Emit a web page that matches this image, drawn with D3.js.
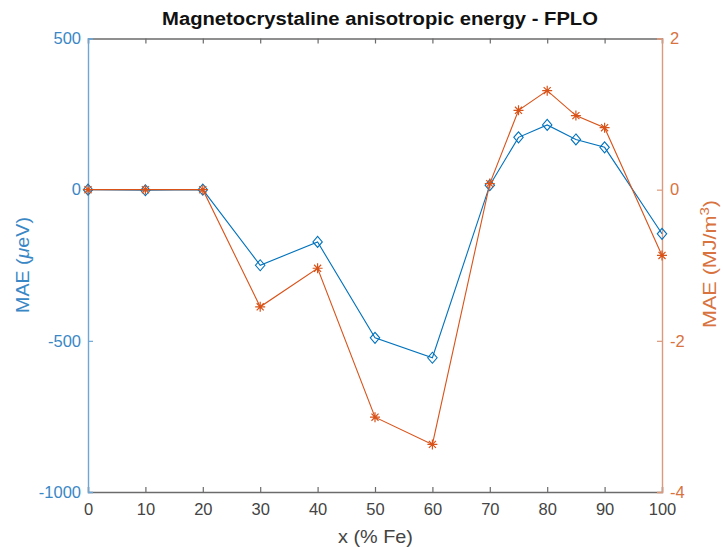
<!DOCTYPE html>
<html>
<head>
<meta charset="utf-8">
<script src="https://cdn.jsdelivr.net/npm/d3@7"></script>
<style>
  html, body { margin: 0; padding: 0; background: #fff; }
  svg text { font-family: "Liberation Sans", Arial, Helvetica, sans-serif; }
</style>
</head>
<body>
<svg id="chart" width="723" height="547"></svg>
<script>
// Fe content (%) for each computed composition
const feContent = [0, 10, 20, 30, 40, 50, 60, 70, 75, 80, 85, 90, 100];
// MAE in µeV (left axis)
const maeMicroEV = [0, -2, 0, -250, -173, -490, -556, 15, 173, 214, 166, 140, -146];
// MAE in MJ/m^3 (right axis)
const maeMJm3 = [0, 0, 0, -1.55, -1.04, -3.01, -3.37, 0.08, 1.05, 1.31, 0.98, 0.82, -0.87];

const xTicks = [0, 10, 20, 30, 40, 50, 60, 70, 80, 90, 100];
const leftTicks = [-1000, -500, 0, 500];
const rightTicks = [-4, -2, 0, 2];

const blue = "#0072BD";
const orange = "#D95319";
const blueText = "#3a87c6";
const orangeText = "#d8733f";

const svg = d3.select("#chart");
const margin = { left: 88, right: 61, top: 38.5, bottom: 55 };
const W = 723, H = 547;
const x0 = margin.left, x1 = W - margin.right;
const y0 = H - margin.bottom, y1 = margin.top;

const x = d3.scaleLinear().domain([0, 100]).range([x0, x1]);
const yL = d3.scaleLinear().domain([-1000, 500]).range([y0, y1]);
const yR = d3.scaleLinear().domain([-4, 2]).range([y0, y1]);

// plain hyphen-minus labels
const fmt = d => String(d);

// Bottom and top axes (ticks pointing inward)
const bottomAxis = d3.axisBottom(x).tickValues(xTicks).tickSize(-5).tickPadding(11).tickFormat(fmt);
const topAxis = d3.axisTop(x).tickValues(xTicks).tickSize(-5).tickFormat("");
const leftAxis = d3.axisLeft(yL).tickValues(leftTicks).tickSize(-5).tickPadding(7).tickFormat(fmt);
const rightAxis = d3.axisRight(yR).tickValues(rightTicks).tickSize(-5).tickPadding(8).tickFormat(fmt);

function styleAxis(g, color, textColor) {
  g.select(".domain").attr("stroke", color).attr("stroke-width", 1.4);
  g.selectAll(".tick line").attr("stroke", color).attr("stroke-width", 1.2);
  g.selectAll(".tick text").attr("fill", textColor).attr("font-size", 16.5)
    .attr("font-family", "Liberation Sans, Arial, sans-serif");
}

svg.append("g").attr("transform", `translate(0,${y1})`).call(topAxis)
  .call(g => styleAxis(g, "#6b6b6b", "#444"));
svg.append("g").attr("transform", `translate(0,${y0})`).call(bottomAxis)
  .call(g => styleAxis(g, "#6b6b6b", "#444"));
svg.append("g").attr("transform", `translate(${x0},0)`).call(leftAxis)
  .call(g => styleAxis(g, "#6ea6d6", blueText));
svg.append("g").attr("transform", `translate(${x1},0)`).call(rightAxis)
  .call(g => styleAxis(g, "#dc9a7c", orangeText));

// stretch a text element along its run so it spans a given width
function fitWidth(textSel, target) {
  const w = textSel.node().getBBox().width;
  return target / w;
}

// Title
const titleG = svg.append("g").attr("transform", "translate(380,25)");
const title = titleG.append("text")
  .attr("text-anchor", "middle").attr("font-weight", "bold").attr("font-size", 17.5)
  .attr("fill", "#111").text("Magnetocrystaline anisotropic energy - FPLO");
title.attr("transform", `scale(${fitWidth(title, 436)},1)`);

// x label
const xlG = svg.append("g").attr("transform", "translate(375.5,543)");
const xl = xlG.append("text").attr("text-anchor", "middle").attr("font-size", 18).attr("fill", "#444")
  .text("x (% Fe)");
xl.attr("transform", `scale(${fitWidth(xl, 75)},1)`);

// left y label
const ylG = svg.append("g").attr("transform", `translate(28.5,265) rotate(-90)`);
const yl = ylG.append("text").attr("text-anchor", "middle").attr("font-size", 18).attr("fill", blueText);
yl.append("tspan").text("MAE (");
yl.append("tspan").attr("font-style", "italic").text("μ");
yl.append("tspan").text("eV)");
yl.attr("transform", `scale(${fitWidth(yl, 96)},1)`);

// right y label
const yrG = svg.append("g").attr("transform", `translate(716,264) rotate(-90)`);
const yr = yrG.append("text").attr("text-anchor", "middle").attr("font-size", 18).attr("fill", orangeText);
yr.append("tspan").text("MAE (MJ/m");
yr.append("tspan").attr("dy", -7).attr("font-size", 12.5).text("3");
yr.append("tspan").attr("dy", 7).text(")");
yr.attr("transform", `scale(${fitWidth(yr, 128)},1)`);

// Series
const blueData = feContent.map((f, i) => ({ f, v: maeMicroEV[i] }));
const orangeData = feContent.map((f, i) => ({ f, v: maeMJm3[i] }));

const lineL = d3.line().x(d => x(d.f)).y(d => yL(d.v));
const lineR = d3.line().x(d => x(d.f)).y(d => yR(d.v));

svg.append("path").datum(blueData).attr("d", lineL)
  .attr("fill", "none").attr("stroke", blue).attr("stroke-width", 1.1);

// diamond markers
svg.append("g").selectAll("path").data(blueData).join("path")
  .attr("transform", d => `translate(${x(d.f)},${yL(d.v)})`)
  .attr("d", "M0,-5.5L4.7,0L0,5.5L-4.7,0Z")
  .attr("fill", "none").attr("stroke", blue).attr("stroke-width", 1.1);

svg.append("path").datum(orangeData).attr("d", lineR)
  .attr("fill", "none").attr("stroke", orange).attr("stroke-width", 1.1);

// asterisk markers
const r = 5;
const astPath = (() => {
  const a = r * Math.cos(Math.PI / 4);
  return `M${-r},0L${r},0M0,${-r}L0,${r}M${-a},${-a}L${a},${a}M${-a},${a}L${a},${-a}`;
})();
svg.append("g").selectAll("path").data(orangeData).join("path")
  .attr("transform", d => `translate(${x(d.f)},${yR(d.v)})`)
  .attr("d", astPath)
  .attr("fill", "none").attr("stroke", orange).attr("stroke-width", 1.2);
</script>
</body>
</html>
